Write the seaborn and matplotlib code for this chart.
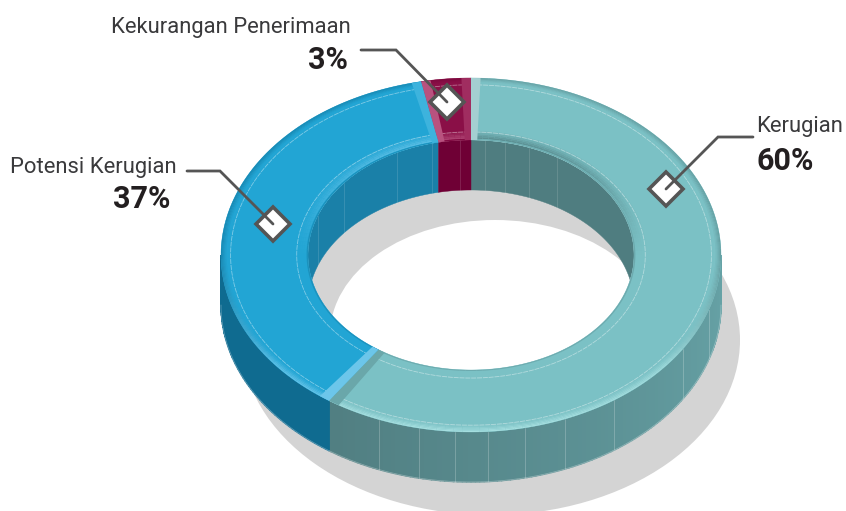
import numpy as np
import seaborn as sns
import matplotlib.pyplot as plt
from matplotlib.colors import to_rgb
from matplotlib.patches import Ellipse, Polygon

labels = ['Kerugian', 'Potensi Kerugian', 'Kekurangan Penerimaan']
shares = [59.6, 37.2, 3.2]
value_labels = ['60%', '37%', '3%']
top_colors = ['#7bc1c5', '#22a5d4', '#8a0f47']
wall_colors = ['#517f82', '#0f6b90', '#6f0035']
inner_wall_colors = ['#4f7d80', '#1a80a8', '#6f0035']
rim_colors = ['#a6dfe0', '#6cc6ea', '#b8527f']
facet_angles = [108, 122, 145, 158, 167.5, 176, 183.6, 192, 201.6]
inner_facet_angles = [-70, -51, -27, -14, -4, 5, 12, 21, 32]

sns.set_theme(style='white')
plt.rcParams['font.family'] = ['Roboto', 'DejaVu Sans']

# ukuran cincin, dalam piksel gambar
CX, CY = 471, 255
RX_OUT, RY_OUT = 250, 177
RX_IN, RY_IN = 163, 115
DEPTH = 50
SHADOW_GRAY = '#d4d4d4'
LINE_GRAY = '#555555'
TEXT_DARK = '#3a3a3c'
TEXT_BOLD = '#231f20'


def mix(c1, c2, k):
    a, b = np.array(to_rgb(c1)), np.array(to_rgb(c2))
    return tuple(a + (b - a) * k)


def arc(t0, t1, rx, ry, dy=0):
    t = np.radians(np.linspace(t0, t1, max(int(abs(t1 - t0) * 2), 2)))
    return np.column_stack([CX + rx * np.sin(t), CY - ry * np.cos(t) + dy])


def band(t0, t1, k_out, k_in):
    # k adalah posisi antara lubang (0) dan tepi luar (1)
    rx_o, ry_o = RX_IN + (RX_OUT - RX_IN) * k_out, RY_IN + (RY_OUT - RY_IN) * k_out
    rx_i, ry_i = RX_IN + (RX_OUT - RX_IN) * k_in, RY_IN + (RY_OUT - RY_IN) * k_in
    return np.vstack([arc(t0, t1, rx_o, ry_o), arc(t1, t0, rx_i, ry_i)])


def main():
    fig = plt.figure(figsize=(8.46, 5.11), dpi=100)
    ax = fig.add_axes([0, 0, 1, 1])
    ax.set_xlim(0, 846)
    ax.set_ylim(511, 0)
    ax.axis('off')

    # bayangan
    ax.add_patch(Ellipse((491, 340), 498, 350, fc=SHADOW_GRAY, ec='none', zorder=1))
    ax.add_patch(Ellipse((495, 335), 330, 230, fc='white', ec='none', zorder=1.1))

    edges = np.cumsum([0] + shares) * 3.6
    spans = list(zip(edges[:-1], edges[1:]))

    # dinding dalam, hanya sisi belakang yang terlihat
    hole = Ellipse((CX, CY), RX_IN * 2, RY_IN * 2, transform=ax.transData)
    for (t0, t1), wall in zip(spans, inner_wall_colors):
        for lo, hi in [(t0, t1), (t0 - 360, t1 - 360)]:
            lo, hi = max(lo, -90), min(hi, 90)
            if lo >= hi:
                continue
            pts = np.vstack([arc(lo, hi, RX_IN, RY_IN), arc(hi, lo, RX_IN, RY_IN, DEPTH)])
            p = Polygon(pts, fc=wall, ec=wall, lw=0.3, zorder=2)
            ax.add_patch(p)
            p.set_clip_path(hole)
    for t in inner_facet_angles:
        xy = arc(t, t + 0.1, RX_IN, RY_IN)[0]
        line, = ax.plot([xy[0], xy[0]], [xy[1], xy[1] + DEPTH], color='white', alpha=0.13, lw=0.7, zorder=2.2)
        line.set_clip_path(hole)

    # dinding luar, sisi depan
    for (t0, t1), wall in zip(spans, wall_colors):
        lo, hi = max(t0, 90), min(t1, 270)
        if lo >= hi:
            continue
        for a in np.arange(lo, hi, 1.0):
            b = min(a + 1.0, hi)
            k = (a - 90) / 180
            col = mix(wall, '#67a3a7', 1 - (k / 0.68)) if t0 == 0 else wall
            pts = np.vstack([arc(a, b, RX_OUT, RY_OUT), arc(b, a, RX_OUT, RY_OUT, DEPTH)])
            ax.add_patch(Polygon(pts, fc=col, ec=col, lw=1.0, zorder=3))
        bottom = arc(lo, hi, RX_OUT, RY_OUT, DEPTH)
        ax.plot(bottom[:, 0], bottom[:, 1], color='white', alpha=0.3, lw=0.6, zorder=3.2)
    for t in facet_angles:
        xy = arc(t, t + 0.1, RX_OUT, RY_OUT)[0]
        ax.plot([xy[0], xy[0]], [xy[1], xy[1] + DEPTH], color='white', alpha=0.22, lw=0.7, zorder=3.1)

    # permukaan atas
    for (t0, t1), top, rim, wall in zip(spans, top_colors, rim_colors, wall_colors):
        ax.add_patch(Polygon(band(t0, t1, 1, 0), fc=top, ec=top, lw=0.3, zorder=4))

        # tepi luar: gelap di belakang, terang di depan
        for a in np.arange(t0, t1, 2.0):
            b = min(a + 2.0, t1)
            mid = (a + b) / 2
            front = max(0, -np.cos(np.radians(mid)))
            step = 0.012 + 0.008 * front
            for i in range(5):
                k = 1 - i * step
                fade = 1 - i / 5
                col = mix(top, mix(wall, rim, min(1, front * 1.6)), fade * (0.5 + 0.5 * front))
                ax.add_patch(Polygon(band(a, b, k, k - step - 0.002), fc=col, ec='none', zorder=4.1))
            # tepi lubang: biru terang, toska gelap di sisi belakang
            back = max(0, np.cos(np.radians(mid)))
            rim_in = wall if t0 == 0 else rim
            for i in range(5):
                k = 0.02 + i * 0.024
                fade = 1 - i / 5
                col = mix(top, rim_in, fade * back * 0.75)
                ax.add_patch(Polygon(band(a, b, k + 0.028, k), fc=col, ec='none', zorder=4.1))
            col = mix(top, wall, 0.35)
            ax.add_patch(Polygon(band(a, b, 0.016, 0), fc=col, ec='none', zorder=4.15))

        # garis tipis bagian dalam
        for k in (0.13, 0.89):
            rx, ry = RX_IN + (RX_OUT - RX_IN) * k, RY_IN + (RY_OUT - RY_IN) * k
            xy = arc(t0 + 1.5, t1 - 1.5, rx, ry)
            ax.plot(xy[:, 0], xy[:, 1], color='white', alpha=0.42, lw=0.6, ls=(0, (6, 1)), zorder=4.3)

    # bevel pada batas irisan
    for t, color, side in [(edges[1], rim_colors[1], 1), (edges[1], mix(top_colors[0], wall_colors[0], 0.4), -1),
                           (edges[2], rim_colors[2], 1), (edges[2], '#3db3dd', -1),
                           (0, '#a4cfd1', 1), (360, '#a02d60', -1)]:
        width = 2.6 if t == edges[1] else 2.2
        ax.add_patch(Polygon(band(min(t, t + side * width), max(t, t + side * width), 1, 0), fc=color, ec='none', zorder=4.4))

    # label dan garis penunjuk
    leaders = [[(753, 137), (718, 137), (666, 189)],
               [(187, 171), (220, 171), (273, 224)],
               [(361, 50), (396, 50), (447, 102)]]
    name_pos = [(756, 132, 'left'), (177, 173, 'right'), (351, 33, 'right')]
    value_pos = [(756, 170, 'left'), (170, 208, 'right'), (348, 69, 'right')]
    for name, value, path, np_, vp in zip(labels, value_labels, leaders, name_pos, value_pos):
        xs, ys = zip(*path)
        ax.plot(xs[-1], ys[-1], marker='D', ms=17, mfc='white', mec=LINE_GRAY, mew=2.6, zorder=6)
        ax.plot(xs, ys, color=LINE_GRAY, lw=2, solid_joinstyle='miter', zorder=6.1)
        ax.text(np_[0], np_[1], name, ha=np_[2], va='baseline', fontsize=15.8, fontweight='normal', color=TEXT_DARK)
        ax.text(vp[0], vp[1], value, ha=vp[2], va='baseline', fontsize=22, fontweight='bold', color=TEXT_BOLD)

    plt.savefig('out.png', dpi=100)
    plt.close()


if __name__ == '__main__':
    main()
